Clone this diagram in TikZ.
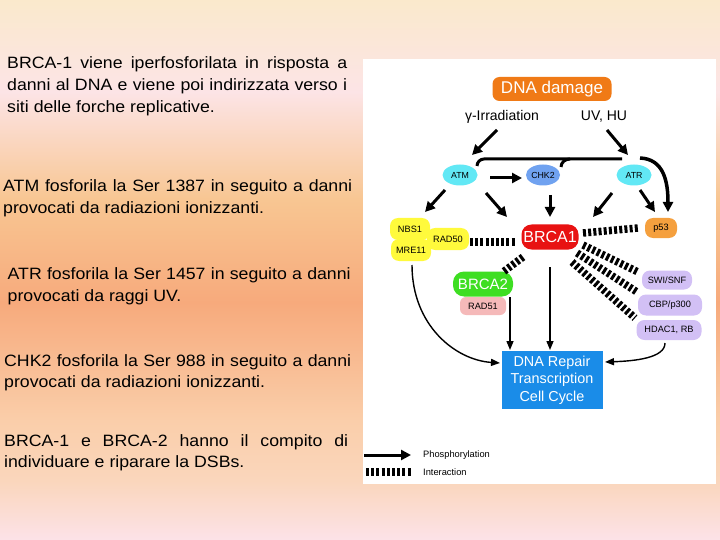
\documentclass[tikz,border=0pt]{standalone}
\usepackage{fontspec}
\setmainfont{Liberation Sans}
\newfontfamily\parafont[FakeStretch=1.08]{Liberation Sans}
\usetikzlibrary{positioning,calc,shapes.geometric,arrows.meta}

\definecolor{bgtop}{RGB}{250,233,204}
\definecolor{bgpink}{RGB}{252,228,230}
\definecolor{bgpeach}{RGB}{248,198,146}
\definecolor{bgsalmon}{RGB}{247,170,124}
\definecolor{bglight}{RGB}{250,206,170}
\definecolor{bgsand}{RGB}{250,214,188}
\definecolor{bgbottom}{RGB}{252,226,232}
\definecolor{damagecol}{RGB}{240,122,22}
\definecolor{kinase}{RGB}{98,232,245}
\definecolor{chkcol}{RGB}{112,162,240}
\definecolor{brcaone}{RGB}{232,18,18}
\definecolor{brcatwo}{RGB}{62,222,34}
\definecolor{mrncol}{RGB}{255,250,60}
\definecolor{radcol}{RGB}{245,185,185}
\definecolor{pcol}{RGB}{245,160,62}
\definecolor{remod}{RGB}{210,192,245}
\definecolor{repaircol}{RGB}{26,140,232}

\pgfdeclareverticalshading{bgshade}{100bp}{color(0bp)=(bgbottom); color(25bp)=(bgbottom);
  color(30.5bp)=(bgsand); color(36bp)=(bglight); color(47bp)=(bgsalmon);
  color(56.5bp)=(bgpeach); color(66.5bp)=(bgpink); color(75bp)=(bgtop); color(100bp)=(bgtop)}

\begin{document}
\begin{tikzpicture}[x=1pt,y=1pt,
  para/.style={anchor=base west, inner sep=0pt, align=justify,
    font=\parafont\fontsize{16.4}{21.7}\selectfont},
  prot/.style={ellipse, minimum width=35pt, minimum height=21pt, inner sep=0pt,
    font=\fontsize{8.8}{9}\selectfont},
  blob/.style={rounded corners=8pt, inner sep=0pt, font=\fontsize{9.2}{10}\selectfont},
  phos/.style={line width=3pt, -{Triangle[length=10pt,width=10pt]}},
  thinarr/.style={line width=1.4pt, -{Triangle[length=9pt,width=7pt]}},
  inter/.style={line width=7.5pt, dash pattern=on 3pt off 2.2pt},
  link/.style={line width=3pt, rounded corners=7pt}]
\useasboundingbox (0,0) rectangle (720,-540);
\shade[shading=bgshade] (0,0) rectangle (720,-540);
\fill[white] (363,-59) rectangle (716,-484);

% left column
\node[para, text width=340pt] (txtone) at (7,-69)
  {BRCA-1 viene iperfosforilata in risposta a\linebreak danni al DNA e viene poi indirizzata verso i\linebreak siti delle forche replicative.};
\node[para, text width=349pt] (txtatm) at (3,-191.7)
  {ATM fosforila la Ser 1387 in seguito a danni\linebreak provocati da radiazioni ionizzanti.};
\node[para, text width=343pt] (txtatr) at (7.5,-279.3)
  {ATR fosforila la Ser 1457 in seguito a danni\linebreak provocati da raggi UV.};
\node[para, text width=347pt] (txtchk) at (4,-366)
  {CHK2 fosforila la Ser 988 in seguito a danni\linebreak provocati da radiazioni ionizzanti.};
\node[para, text width=344pt] (txtbrca) at (4,-446)
  {BRCA-1 e BRCA-2 hanno il compito di\linebreak individuare e riparare la DSBs.};

% signalling
\node[fill=damagecol, text=white, rounded corners=7pt, minimum width=119pt, minimum height=24pt,
  inner sep=0pt, font=\fontsize{17}{17}\selectfont] (damage) at (552,-89) {DNA damage};
\node[font=\fontsize{14}{14}\selectfont] (gamma) at (502,-117) {γ-Irradiation};
\node[font=\fontsize{14}{14}\selectfont] (uvhu) at (604,-117) {UV, HU};
\node[prot, fill=kinase] (atm) at (460,-175) {ATM};
\node[prot, fill=chkcol, minimum width=34pt] (chk2) at (543,-175) {CHK2};
\node[prot, fill=kinase] (atr) at (634,-175) {ATR};

\node[fill=brcaone, text=white, rounded corners=10pt, minimum width=57pt, minimum height=25pt,
  inner sep=0pt, font=\fontsize{16}{16}\selectfont] (brca1) at (550,-237) {BRCA1};
\node[blob, fill=mrncol, minimum width=42pt, minimum height=22pt] (rad50) at (448,-239) {RAD50};
\node[blob, fill=mrncol, minimum width=40pt, minimum height=22pt] (nbs) at (410,-229) {NBS1};
\node[blob, fill=mrncol, minimum width=40pt, minimum height=22pt] (mre) at (411,-250) {MRE11};
\node[fill=brcatwo, text=white, rounded corners=11pt, minimum width=60pt, minimum height=25pt,
  inner sep=0pt, font=\fontsize{15}{15}\selectfont] (brca2) at (483,-284) {BRCA2};
\node[blob, fill=radcol, rounded corners=6pt, minimum width=46pt, minimum height=18pt] (rad51) at (483,-306) {RAD51};
\node[blob, fill=pcol, minimum width=32pt, minimum height=20pt] (p53) at (661,-228) {p53};
\node[blob, fill=remod, minimum width=50pt, minimum height=19pt] (swisnf) at (667,-280) {SWI/SNF};
\node[blob, fill=remod, minimum width=64pt, minimum height=21pt] (cbp) at (670,-305) {CBP/p300};
\node[blob, fill=remod, minimum width=65pt, minimum height=20pt] (hdac) at (669,-330) {HDAC1, RB};
\node[fill=repaircol, text=white, minimum width=101pt, minimum height=58pt, inner sep=0pt,
  align=center, font=\fontsize{14.4}{17.5}\selectfont] (repair) at (552,-380)
  {DNA Repair\\Transcription\\Cell Cycle};

% phosphorylation
\draw[phos] ($(gamma)+(-5,-13)$) -- ($(atm)+(12,20)$);
\draw[phos] ($(uvhu)+(3,-13)$) -- ($(atr)+(-6,20)$);
\draw[phos] ($(atm)+(30,-3)$) -- ($(chk2)+(-21,-3)$);
\draw[phos] ($(atm)+(-15,-15)$) -- ($(nbs)+(15,17)$);
\draw[phos] ($(atm)+(26,-18)$) -- ($(brca1)+(-43,20)$);
\draw[phos] ($(chk2)+(7,-20)$) -- ($(brca1)+(0,20)$);
\draw[phos] ($(atr)+(-22,-18)$) -- ($(brca1)+(43,20)$);
\draw[phos] ($(atr)+(6,-15)$) -- ($(p53)+(-6,16)$);
\draw[phos, line width=3.5pt] ($(atr)+(6,17)$) .. controls +(24,-1) and +(0,30) .. ($(p53)+(7,16)$);
\draw[link] ($(atr)+(-12,16)$) -| ($(atm)+(17,9)$);
\draw[line width=3pt] ($(chk2)+(27,16)$) to[out=180,in=90] ($(chk2)+(18,8)$);

% interaction
\draw[inter] ($(rad50)+(22,-3)$) -- ($(brca1)+(-35,-5)$);
\draw[inter] ($(brca1)+(-27,-20)$) -- ($(brca2)+(20,12)$);
\draw[inter] ($(brca1)+(33,4)$) -- ($(p53)+(-23,0)$);
\draw[inter] ($(brca1)+(33,-8)$) -- ($(swisnf)+(-29,8)$);
\draw[inter] ($(brca1)+(27,-16)$) -- ($(cbp)+(-33,13)$);
\draw[inter] ($(brca1)+(22,-25)$) -- ($(hdac)+(-34,12)$);

% towards repair
\draw[thinarr] ($(brca2)+(27,-13)$) -- ($(repair)+(-42,30)$);
\draw[thinarr] ($(brca1)+(0,-30)$) -- ($(repair)+(-2,30)$);
\draw[thinarr] ($(mre)+(1,-15)$) .. controls +(0,-60) and +(-45,3) .. ($(repair)+(-52,17)$);
\draw[thinarr] ($(hdac)+(-4,-13)$) .. controls +(0,-15) and +(30,1) .. ($(repair)+(53,18)$);

% legend
\node[anchor=west, inner sep=0pt, font=\fontsize{9.3}{10}\selectfont] (lphos) at (423,-455) {Phosphorylation};
\node[anchor=west, inner sep=0pt, font=\fontsize{9.3}{10}\selectfont] (linter) at (423,-472) {Interaction};
\coordinate (lphosstart) at (364,-455);
\coordinate (linterstart) at (366,-472);
\draw[phos] (lphosstart) -- ($(lphos.west)+(-12,0)$);
\draw[inter] (linterstart) -- ($(linter.west)+(-12,0)$);
\end{tikzpicture}
\end{document}
